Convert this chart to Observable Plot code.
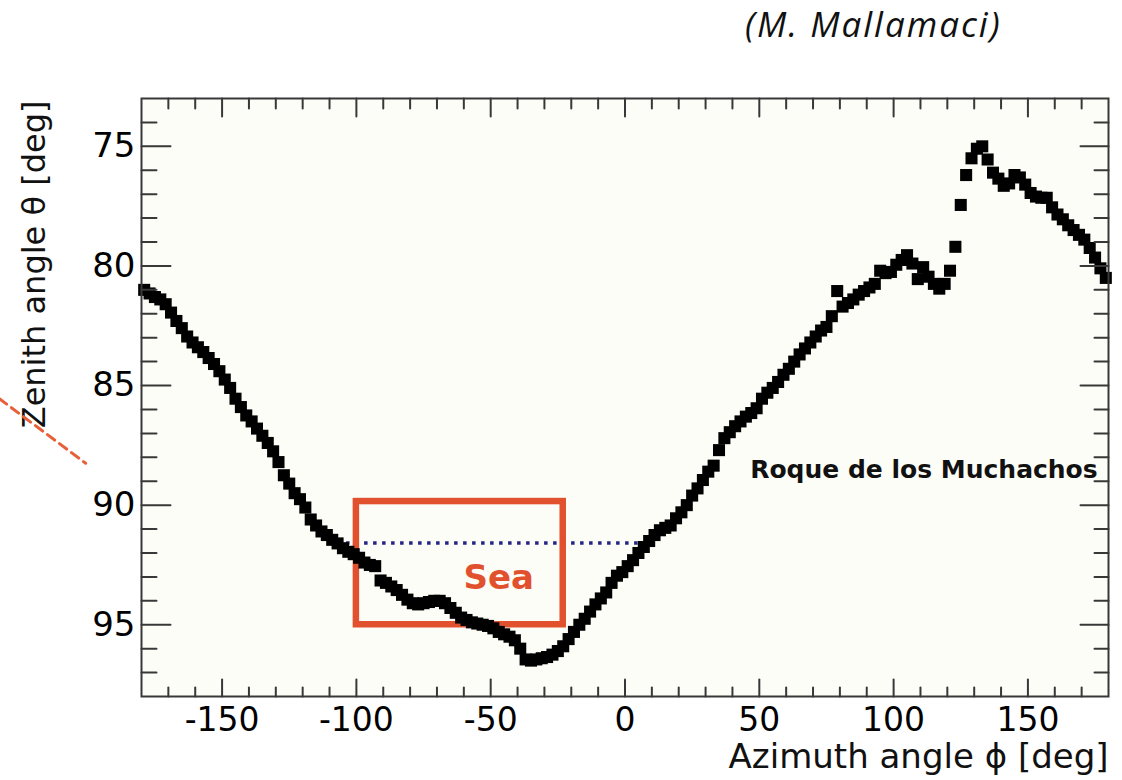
<!DOCTYPE html>
<html><head><meta charset="utf-8">
<script src="https://cdn.jsdelivr.net/npm/d3@7"></script>
<script src="https://cdn.jsdelivr.net/npm/@observablehq/plot@0.6"></script>
<style>
html,body{margin:0;padding:0;background:#fff;}
#wrap{position:relative;width:1122px;height:780px;}
#credit{position:absolute;left:745px;top:4px;font-family:"Open Sans";font-style:italic;font-size:35px;line-height:40px;letter-spacing:2px;color:#111;white-space:nowrap;z-index:2;}
#chart{position:absolute;left:0;top:0;}
</style></head><body>
<div id="wrap"><div id="credit">(M. Mallamaci)</div><div id="chart"></div></div>
<script>
// Azimuth angle phi [deg] of each measured point
const azimuth = [
-179,-177,-175,-173,-171,-169,-167,-165,-163,-161,-159,-157,-155,-153,-151,-149,-147,-145,-143,-141,
-139,-137,-135,-133,-131,-129,-127,-125,-123,-121,-119,-117,-115,-113,-111,-109,-107,-105,-103,-101,
-99,-97,-95,-93,-91,-89,-87,-85,-83,-81,-79,-77,-75,-73,-71,-69,-67,-65,-63,-61,
-59,-57,-55,-53,-51,-49,-47,-45,-43,-41,-39,-37,-35,-33,-31,-29,-27,-25,-23,-21,
-19,-17,-15,-13,-11,-9,-7,-5,-3,-1,1,3,5,7,9,11,13,15,17,19,
21,23,25,27,29,31,33,35,37,39,41,43,45,47,49,51,53,55,57,59,
61,63,65,67,69,71,73,75,77,79,81,83,85,87,89,91,93,95,97,99,
101,103,105,107,109,111,113,115,117,119,121,123,125,127,129,131,133,135,137,139,
141,143,145,147,149,151,153,155,157,159,161,163,165,167,169,171,173,175,177,179
];
// Zenith angle theta [deg] of the horizon at each azimuth
const zenith = [
81.0,81.15,81.3,81.4,81.6,81.95,82.3,82.6,82.95,83.2,83.4,83.6,83.85,84.1,84.4,84.75,85.1,85.55,85.9,86.25,
86.5,86.8,87.1,87.4,87.75,88.2,88.75,89.1,89.5,89.75,90.1,90.6,90.85,91.1,91.25,91.45,91.6,91.8,91.95,92.05,
92.2,92.4,92.5,92.55,93.15,93.25,93.4,93.55,93.75,93.95,94.1,94.15,94.1,94.05,94.0,94.0,94.1,94.3,94.5,94.7,
94.8,94.9,94.95,95.0,95.05,95.15,95.3,95.4,95.5,95.65,96.0,96.45,96.5,96.45,96.4,96.35,96.25,96.1,95.9,95.6,
95.3,95.0,94.75,94.45,94.15,93.9,93.65,93.25,92.95,92.8,92.55,92.3,92.0,91.75,91.5,91.25,91.05,90.95,90.85,90.55,
90.3,90.0,89.6,89.3,88.95,88.6,88.35,87.7,87.2,86.95,86.7,86.5,86.3,86.15,85.95,85.55,85.3,85.1,84.85,84.55,
84.3,84.0,83.7,83.45,83.2,82.95,82.7,82.55,82.1,81.05,81.7,81.55,81.4,81.2,81.05,80.9,80.75,80.2,80.3,80.25,
79.95,79.75,79.55,79.9,80.55,80.05,80.45,80.75,80.95,80.75,80.2,79.2,77.45,76.2,75.5,75.1,75.0,75.55,76.1,76.35,
76.65,76.55,76.2,76.3,76.6,76.95,77.1,77.15,77.15,77.55,77.85,78.05,78.3,78.5,78.7,78.9,79.25,79.65,80.1,80.5
];

// Axis ticks and labels
const xMajor = [-150, -100, -50, 0, 50, 100, 150];
const xMinor = [-170,-160,-140,-130,-120,-110,-90,-80,-70,-60,-40,-30,-20,-10,10,20,30,40,60,70,80,90,110,120,130,140,160,170];
const yMajor = [75, 80, 85, 90, 95];
const yMinor = [74,76,77,78,79,81,82,83,84,86,87,88,89,91,92,93,94,96,97];
const xTitle = "Azimuth angle \u03d5 [deg]";
const yTitle = "Zenith angle \u03b8 [deg]";

// Annotations
const seaBoxAzimuth = [-100, -23];
const seaBoxZenith = [89.85, 95.0];
const seaLevelZenith = 91.58;
const seaLevelAzimuth = [-107, 10];
const seaLabel = [{a: -47, z: 93.05, text: "Sea"}];
const siteLabel = [{a: 46.6, z: 88.55, text: "Roque de los Muchachos"}];
const markerAzimuth = [-232.9, -200.8];
const markerZenith = [85.55, 88.25];

const points = azimuth.map((a, i) => ({a, z: zenith[i]}));
const seaBox = [{x1: seaBoxAzimuth[0], x2: seaBoxAzimuth[1], y1: seaBoxZenith[0], y2: seaBoxZenith[1]}];
const marker = markerAzimuth.map((a, i) => ({a, z: markerZenith[i]}));

const frameColor = "#383838";
const tickShape = {draw(ctx, l) { ctx.moveTo(0, 0); ctx.lineTo(0, -l); }};
function tickMarks(values, dim, frameAnchor, rotate, length) {
  return Plot.vector(values, {[dim]: d => d, frameAnchor, rotate, length, anchor: "start",
    shape: tickShape, stroke: frameColor, strokeWidth: 2});
}

const chart = Plot.plot({
  width: 1122, height: 780,
  marginLeft: 141, marginRight: 14, marginTop: 98, marginBottom: 84,
  style: {background: "transparent", fontFamily: "DejaVu Sans", color: "black", overflow: "visible"},
  x: {domain: [-180, 180]},
  y: {domain: [73, 98], reverse: true},
  marks: [
    Plot.frame({fill: "#fdfdf7", stroke: null}),
    Plot.ruleY([seaLevelZenith], {x1: seaLevelAzimuth[0], x2: seaLevelAzimuth[1], stroke: "#252585", strokeWidth: 3.5, strokeDasharray: "3.5,5.5"}),
    Plot.rect(seaBox, {x1: "x1", x2: "x2", y1: "y1", y2: "y2", fill: "none", stroke: "#e1512e", strokeWidth: 6.5}),
    Plot.dot(points, {x: "a", y: "z", symbol: "square", r: 6.8, fill: "black", stroke: "none"}),
    Plot.text(seaLabel, {x: "a", y: "z", text: "text", fill: "#e1512e", fontWeight: "bold", fontSize: 34, textAnchor: "middle", lineAnchor: "middle"}),
    Plot.text(siteLabel, {x: "a", y: "z", text: "text", fill: "#111", fontWeight: "bold", fontSize: 25, textAnchor: "start", lineAnchor: "middle"}),
    tickMarks(yMajor, "y", "left", 90, 29),
    tickMarks(yMinor, "y", "left", 90, 15),
    tickMarks(yMajor, "y", "right", -90, 28),
    tickMarks(yMinor, "y", "right", -90, 14),
    tickMarks(xMajor, "x", "bottom", 0, 17),
    tickMarks(xMinor, "x", "bottom", 0, 9),
    tickMarks(xMajor, "x", "top", 180, 18),
    tickMarks(xMinor, "x", "top", 180, 10),
    Plot.frame({stroke: frameColor, strokeWidth: 2}),
    Plot.axisX({ticks: xMajor, tickSize: 0, tickPadding: 11, fontSize: 33, tickFormat: d => String(d), label: null}),
    Plot.axisY({ticks: yMajor, tickSize: 0, tickPadding: 6, fontSize: 34, tickFormat: d => String(d), label: null}),
    Plot.text([xTitle], {frameAnchor: "bottom-right", text: d => d, fontSize: 34, textAnchor: "end", lineAnchor: "middle", dy: 61, fill: "#111"}),
    Plot.text([yTitle], {frameAnchor: "top-left", text: d => d, rotate: -90, fontSize: 32, textAnchor: "end", lineAnchor: "middle", dx: -107, dy: 2, fill: "#111"}),
    Plot.line(marker, {x: "a", y: "z", stroke: "#e8603a", strokeWidth: 3, strokeDasharray: "9,6"})
  ]
});
document.getElementById("chart").appendChild(chart);
</script>
</body></html>
